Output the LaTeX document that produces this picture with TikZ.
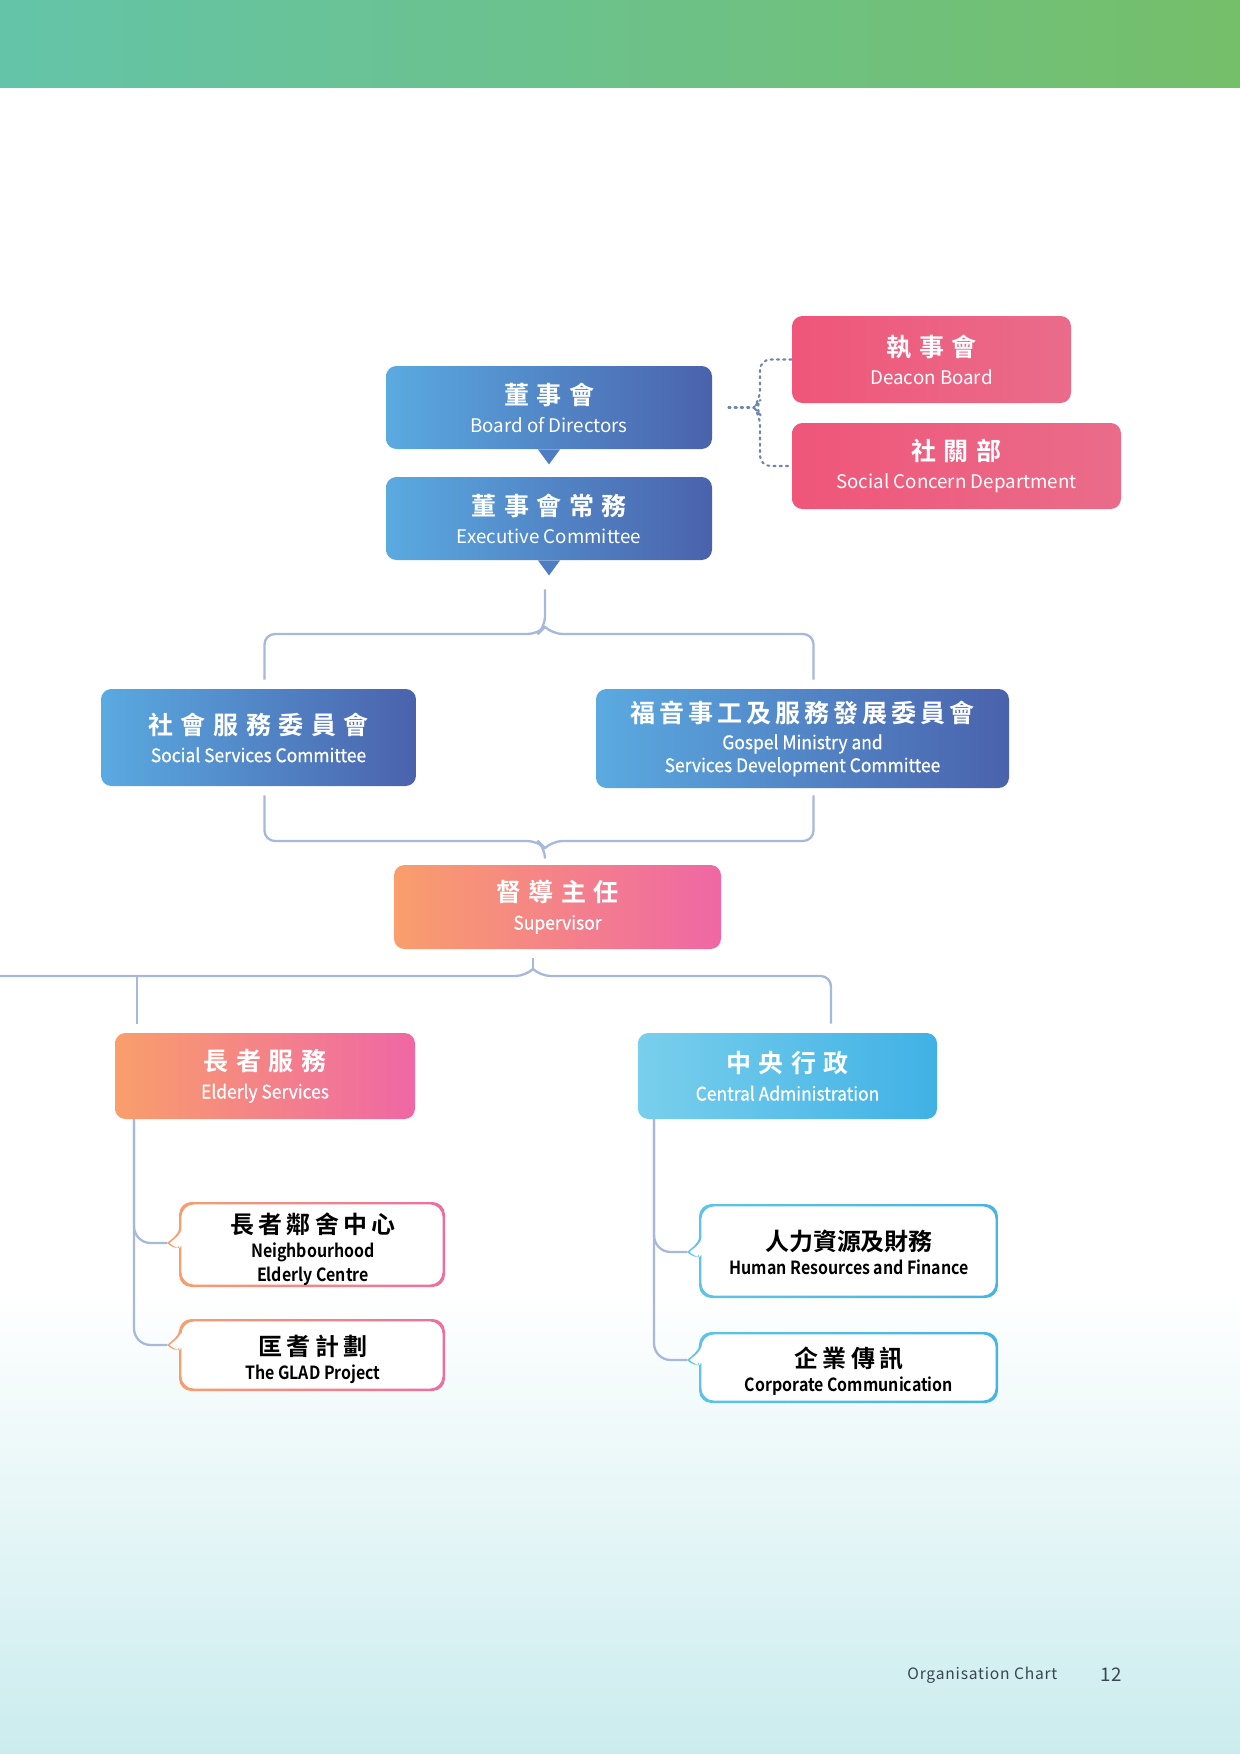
\documentclass[tikz,border=0pt]{standalone}
\usepackage{fontspec}
\setmainfont{Noto Sans CJK TC}[BoldFont={Noto Sans CJK TC Bold}]
\newfontfamily\cjkb{Noto Sans CJK TC Bold}
\newfontfamily\engm{Noto Sans CJK TC}[FakeBold=0.6,FakeStretch=0.93]
\newfontfamily\engb{Noto Sans CJK TC Bold}[FakeStretch=0.88]
\newfontfamily\footf{Noto Sans CJK TC}[LetterSpace=5]
\usetikzlibrary{calc}
\definecolor{barL}{RGB}{100,196,168}
\definecolor{barR}{RGB}{117,191,106}
\definecolor{bgB}{RGB}{203,236,238}
\definecolor{bL}{RGB}{90,170,224}
\definecolor{bR}{RGB}{74,98,172}
\definecolor{triC}{RGB}{78,125,194}
\definecolor{pkL}{RGB}{239,86,121}
\definecolor{pkR}{RGB}{234,108,138}
\definecolor{orL}{RGB}{249,158,108}
\definecolor{orR}{RGB}{239,103,165}
\definecolor{cyL}{RGB}{121,207,236}
\definecolor{cyR}{RGB}{64,177,229}
\definecolor{obL}{RGB}{247,160,110}
\definecolor{obR}{RGB}{236,110,160}
\definecolor{cbL}{RGB}{95,196,230}
\definecolor{cbR}{RGB}{72,180,226}
\definecolor{lnC}{RGB}{168,184,218}
\definecolor{dotC}{RGB}{110,134,170}
\definecolor{ftC}{RGB}{55,70,80}
\newcommand\gp{\hspace{3.6pt}}
\newcommand\gq{\hspace{1.9pt}}
\newcommand\gs{\hspace{2pt}}
\newcommand\ttl[1]{{\cjkb\fontsize{12}{14}\selectfont #1}}
\newcommand\ttlb[1]{{\cjkb\fontsize{11.5}{13}\selectfont #1}}
% callout outline path: x1 y1 x2 y2 ynotch inset
\newcommand\calloutpath[6]{%
 ({(#1+#3)/2},{#2+#6}) [rounded corners=6pt] -- ({#3-#6},{#2+#6}) -- ({#3-#6},{#4-#6}) -- ({#1+#6},{#4-#6}) -- ({#1+#6},{#5+15}) [sharp corners]
 .. controls ({#1+#6},{#5+8}) and ({#1-9+#6},{#5+3}) .. ({#1-12+#6},{#5})
 .. controls ({#1-9+#6},{#5-3}) and ({#1+#6},{#5-8}) .. ({#1+#6},{#5-15})
 [rounded corners=6pt] -- ({#1+#6},{#2+#6}) -- cycle}
\newcommand\callout[7]{%
 \fill[white] \calloutpath{#1}{#2}{#3}{#4}{#5}{0};
 \shade[left color=#6, right color=#7, even odd rule] \calloutpath{#1}{#2}{#3}{#4}{#5}{0} \calloutpath{#1}{#2}{#3}{#4}{#5}{2.4};
}
\begin{document}
\begin{tikzpicture}[x=0.48pt,y=-0.48pt,
 wh/.style 2 args={minimum width={#1*0.48pt}, minimum height={#2*0.48pt}},
 fbox/.style={rounded corners=5pt, inner sep=0pt, align=center, text=white, font=\fontsize{9}{13.5}\selectfont},
 blu/.style={fbox, left color=bL, right color=bR},
 pnk/.style={fbox, left color=pkL, right color=pkR},
 org/.style={fbox, left color=orL, right color=orR},
 cyn/.style={fbox, left color=cyL, right color=cyR},
 clbl/.style={inner sep=0pt, align=center, text=black, font=\engb\fontsize{8.7}{11.5}\selectfont},
 conn/.style={draw=lnC, line width=1.1pt, rounded corners=5pt},
 dotl/.style={draw=dotC, line width=1pt, dotted, line cap=round, rounded corners=5pt},
]
\useasboundingbox (0,0) rectangle (1240,1754);
% background
\fill[white] (0,0) rectangle (1240,1754);
\shade[top color=white, bottom color=bgB] (0,1290) rectangle (1240,1754);
\shade[left color=barL, right color=barR] (0,0) rectangle (1240,87);

% top boxes
\node[blu, wh={326}{83}] (bod) at (549,407.5) {\ttl{董\gp{}事\gp{}會}\\Board of Directors};
\fill[triC] ($(bod.south)+(-11,0)$) -- ($(bod.south)+(11,0)$) -- ($(bod.south)+(0,15)$) -- cycle;
\node[blu, wh={326}{83}] (exe) at (549,518.5) {\ttl{董\gp{}事\gp{}會\gp{}常\gp{}務}\\Executive Committee};
\fill[triC] ($(exe.south)+(-11,0)$) -- ($(exe.south)+(11,0)$) -- ($(exe.south)+(0,15)$) -- cycle;
\node[pnk, wh={279}{87}] (deacon) at (931.5,359.5) {\ttl{執\gp{}事\gp{}會}\\Deacon Board};
\node[pnk, wh={329}{86}] (scd) at (956.5,466) {\ttl{社\gp{}關\gp{}部}\\Social Concern Department};

% dotted brace
\coordinate (dj) at (760,407.5);
\draw[dotl] (deacon.west) -- (deacon.west -| dj) -- ($(dj)+(0,-7)$) -- ($(dj)+(-6,0)$) -- ($(dj)+(0,7)$) -- (scd.west -| dj) -- (scd.west);
\draw[dotl] ($(bod.east)+(16,0)$) -- ($(dj)+(-6,0)$);

% committees
\node[blu, wh={315}{97}] (ssc) at (258.5,737.5) {\ttl{社\gp{}會\gp{}服\gp{}務\gp{}委\gp{}員\gp{}會}\\{\engm Social Services Committee}};
\node[blu, wh={413}{99}, font=\fontsize{9}{11}\selectfont] (gm) at (802.5,738.5) {\ttl{福\gq{}音\gq{}事\gq{}工\gq{}及\gq{}服\gq{}務\gq{}發\gq{}展\gq{}委\gq{}員\gq{}會}\\[2pt]{\engm Gospel Ministry and}\\{\engm Services Development Committee}};

\coordinate (ej) at (545,634);
\coordinate (a1) at ($(ssc.north)+(6,-9)$);
\coordinate (a2) at ($(gm.north)+(11,-9)$);
\draw[conn] (a1) -- (a1 |- ej) -- ($(ej)+(-7,0)$) -- ($(ej)+(0,-7)$) -- ($(exe.south)+(-4,29)$);
\draw[conn] (a2) -- (a2 |- ej) -- ($(ej)+(7,0)$) -- ($(ej)+(0,-7)$);

% supervisor
\node[org, wh={327}{84}] (sup) at (557.5,907) {\ttl{督\gp{}導\gp{}主\gp{}任}\\{\engm Supervisor}};
\coordinate (bj) at (545,841);
\coordinate (b1) at ($(ssc.south)+(6,9)$);
\coordinate (b2) at ($(gm.south)+(11,7)$);
\draw[conn] (b1) -- (b1 |- bj) -- ($(bj)+(-7,0)$) -- ($(bj)+(0,7)$) -- ($(bj |- sup.north)+(0,-9)$);
\draw[conn] (b2) -- (b2 |- bj) -- ($(bj)+(7,0)$) -- ($(bj)+(0,7)$);

% services
\node[org, wh={300}{86}] (eld) at (265,1076) {\ttl{長\gp{}者\gp{}服\gp{}務}\\{\engm Elderly Services}};
\node[cyn, wh={299}{86}] (cen) at (787.5,1076) {\ttl{中\gp{}央\gp{}行\gp{}政}\\{\engm Central Administration}};

\coordinate (sj) at (533,976);
\coordinate (lft) at (0,976);
\coordinate (ej2) at (137,976);
\coordinate (cj) at (831,976);
\draw[conn] ($(sj |- sup.south)+(0,9)$) -- ($(sj)+(0,-7)$);
\draw[conn] (lft) -- ($(sj)+(-7,0)$) -- ($(sj)+(0,-7)$);
\draw[conn] ($(sj)+(0,-7)$) -- ($(sj)+(7,0)$) -- (cj) -- ($(cj |- cen.north)+(0,-9)$);
\draw[conn] (ej2) -- ($(ej2 |- eld.north)+(0,-9)$);

% callouts left
\callout{179}{1202}{445}{1287}{1243}{obL}{obR}
\node[clbl, wh={266}{85}] (nec) at (313,1249) {\ttlb{長\gs{}者\gs{}鄰\gs{}舍\gs{}中\gs{}心}\\Neighbourhood\\Elderly Centre};
\coordinate (nec-tip) at (167,1243);
\callout{179}{1319}{445}{1391}{1345}{obL}{obR}
\node[clbl, wh={266}{72}] (glad) at (313,1359) {\ttlb{匡\gs{}耆\gs{}計\gs{}劃}\\The GLAD Project};
\coordinate (glad-tip) at (167,1345);
\coordinate (ev) at (134,1119);
\draw[conn, rounded corners=8pt] (ev) |- (nec-tip);
\draw[conn, rounded corners=8pt] (ev) |- (glad-tip);

% callouts right
\callout{699}{1204}{998}{1298}{1252}{cbL}{cbR}
\node[clbl, wh={299}{94}] (hr) at (849,1252) {\ttlb{人力資源及財務}\\Human Resources and Finance};
\coordinate (hr-tip) at (687,1252);
\callout{699}{1332}{998}{1403}{1360}{cbL}{cbR}
\node[clbl, wh={299}{71}] (cc) at (849,1371) {\ttlb{企\gs{}業\gs{}傳\gs{}訊}\\Corporate Communication};
\coordinate (cc-tip) at (687,1360);
\coordinate (cv) at (654,1119);
\draw[conn, rounded corners=8pt] (cv) |- (hr-tip);
\draw[conn, rounded corners=8pt] (cv) |- (cc-tip);

% footer
\node[anchor=west, inner sep=0pt, text=ftC, font=\footf\fontsize{7.5}{9}\selectfont] (ft) at (907,1675) {Organisation Chart};
\node[inner sep=0pt, text=ftC, font=\footf\fontsize{9}{10}\selectfont] (pg) at (1111,1675) {12};
\end{tikzpicture}
\end{document}
